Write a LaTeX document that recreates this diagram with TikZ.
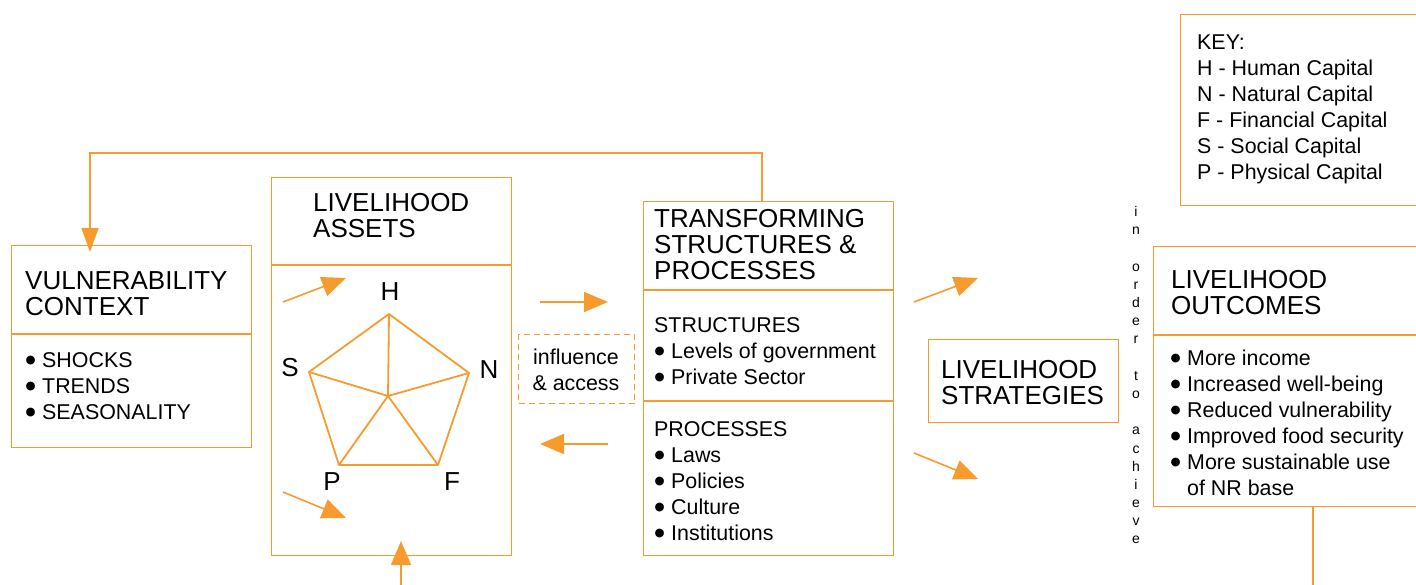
\documentclass[tikz,border=0pt]{standalone}
\usepackage{fontspec}
\setmainfont{Liberation Sans}
\newfontfamily\dvs{DejaVu Sans}
\usetikzlibrary{arrows.meta}
\definecolor{orng}{RGB}{247,155,46}
\newcommand\bl{\makebox[17pt][l]{\hspace{0.5pt}\raisebox{4pt}{\dvs\fontsize{11.5}{11.5}\selectfont ●}}}
\newcommand\ttlstrut{\rule{0pt}{24pt}}
\newcommand\txtstrut{\rule{0pt}{20pt}}
\begin{document}
\begin{tikzpicture}[x=1pt,y=-1pt,
  box/.style={draw=orng, line width=1.3pt, rectangle, inner sep=0pt, anchor=north west},
  dbox/.style={box, dashed, dash pattern=on 6pt off 4pt},
  divider/.style={draw=orng, line width=1.3pt},
  ttl/.style={anchor=north west, inner sep=0pt, align=left, font=\fontsize{26}{26}\selectfont},
  txt/.style={anchor=north west, inner sep=0pt, align=left, font=\fontsize{21.4}{26}\selectfont},
  letter/.style={inner sep=0pt, font=\fontsize{26}{26}\selectfont},
  vtxt/.style={anchor=north, inner sep=0pt, align=center, font=\fontsize{14}{18.17}\selectfont},
  arr/.style={draw=orng, line width=1.6pt, -{Triangle[length=24pt,width=20pt]}},
  fbarr/.style={draw=orng, line width=1.4pt, -{Triangle[length=24pt,width=17pt]}},
  plain/.style={draw=orng, line width=1.4pt},
  pent/.style={draw=orng, line width=1.8pt, line join=round}
]
\useasboundingbox (0,0) rectangle (1416,585);
\clip (0,0) rectangle (1416,585);

% boxes
\node[box, minimum width=240pt, minimum height=202pt] (vc) at (11,245) {};
\node[box, minimum width=240pt, minimum height=378pt] (la) at (271,177) {};
\node[box, minimum width=250pt, minimum height=354pt] (tsp) at (643,201) {};
\node[box, minimum width=190pt, minimum height=83pt] (ls) at (928,339) {};
\node[box, minimum width=280pt, minimum height=260pt] (lo) at (1153,246) {};
\node[box, minimum width=260pt, minimum height=191pt] (key) at (1180,14) {};
\node[dbox, minimum width=116pt, minimum height=69pt] (ia) at (518,334) {};

% dividers
\coordinate (vcd) at (0,334);
\coordinate (lad) at (0,265);
\coordinate (tsd1) at (0,290);
\coordinate (tsd2) at (0,401);
\coordinate (lod) at (0,335);
\draw[divider] (vc.west |- vcd) -- (vc.east |- vcd);
\draw[divider] (la.west |- lad) -- (la.east |- lad);
\draw[divider] (tsp.west |- tsd1) -- (tsp.east |- tsd1);
\draw[divider] (tsp.west |- tsd2) -- (tsp.east |- tsd2);
\draw[divider] (lo.west |- lod) -- (lo.east |- lod);

% texts
\node[ttl] (vct) at (25,265.3) {\ttlstrut VULNERABILITY\\CONTEXT};
\node[txt] (vcb) at (25,347.5) {\txtstrut\bl SHOCKS\\\bl TRENDS\\\bl SEASONALITY};
\node[ttl] (lat) at (313,187.3) {\ttlstrut LIVELIHOOD\\ASSETS};
\node[ttl] (tst) at (654,203.3) {\ttlstrut TRANSFORMING\\STRUCTURES \&\\PROCESSES};
\node[txt] (tss) at (654,312.5) {\txtstrut STRUCTURES\\\bl Levels of government\\\bl Private Sector};
\node[txt] (tsq) at (654,416.5) {\txtstrut PROCESSES\\\bl Laws\\\bl Policies\\\bl Culture\\\bl Institutions};
\node[txt, anchor=north, align=center] (iat) at (576,344.5) {\txtstrut influence\\\& access};
\node[ttl] (lst) at (941,354.3) {\ttlstrut LIVELIHOOD\\STRATEGIES};
\node[ttl] (lot) at (1171,264.3) {\ttlstrut LIVELIHOOD\\OUTCOMES};
\node[txt] (lob) at (1170,345.5) {\txtstrut\bl More income\\\bl Increased well-being\\\bl Reduced vulnerability\\\bl Improved food security\\\bl More sustainable use\\\makebox[17pt]{}of NR base};
\node[txt] (keyt) at (1197,29.5) {\txtstrut KEY:\\H - Human Capital\\N - Natural Capital\\F - Financial Capital\\S - Social Capital\\P - Physical Capital};
\node[vtxt] (iota) at (1136,204.6) {\rule{0pt}{12pt}i\\n\\\mbox{}\\o\\r\\d\\e\\r\\\mbox{}\\t\\o\\\mbox{}\\a\\c\\h\\i\\e\\v\\e};

% pentagon
\coordinate (pH) at (389,314);
\coordinate (pN) at (469,373);
\coordinate (pF) at (438,465);
\coordinate (pP) at (339,465);
\coordinate (pS) at (309,372);
\coordinate (pC) at (388,396);
\draw[pent] (pH) -- (pN) -- (pF) -- (pP) -- (pS) -- cycle;
\draw[pent] (pC) -- (pH) (pC) -- (pN) (pC) -- (pF) (pC) -- (pP) (pC) -- (pS);
\node[letter] (lH) at (390,292) {H};
\node[letter] (lS) at (290,368) {S};
\node[letter] (lN) at (489,370) {N};
\node[letter] (lP) at (332,482) {P};
\node[letter] (lF) at (452,482) {F};

% arrows
\coordinate (a1s) at (283,302); \coordinate (a1e) at (346,278);
\coordinate (a2s) at (283,492); \coordinate (a2e) at (346,518);
\coordinate (a3s) at (540,302); \coordinate (a3e) at (608,302);
\coordinate (a4s) at (608,444); \coordinate (a4e) at (540,444);
\coordinate (a5s) at (914,302); \coordinate (a5e) at (978,278);
\coordinate (a6s) at (914,453); \coordinate (a6e) at (978,479);
\draw[arr] (a1s) -- (a1e);
\draw[arr] (a2s) -- (a2e);
\draw[arr] (a3s) -- (a3e);
\draw[arr] (a4s) -- (a4e);
\draw[arr] (a5s) -- (a5e);
\draw[arr] (a6s) -- (a6e);

% feedback loop
\coordinate (fb1) at (762,201);
\coordinate (fb2) at (762,153);
\coordinate (fb3) at (90,153);
\coordinate (fb4) at (90,252);
\draw[fbarr] (fb1) -- (fb2) -- (fb3) -- (fb4);

% bottom arrow into assets
\coordinate (bt1) at (401,590);
\coordinate (bt2) at (401,541);
\draw[arr] (bt1) -- (bt2);

% outcomes line
\coordinate (ol1) at (1313,590);
\draw[plain] (lo.south west -| ol1) -- (ol1);
\end{tikzpicture}
\end{document}
